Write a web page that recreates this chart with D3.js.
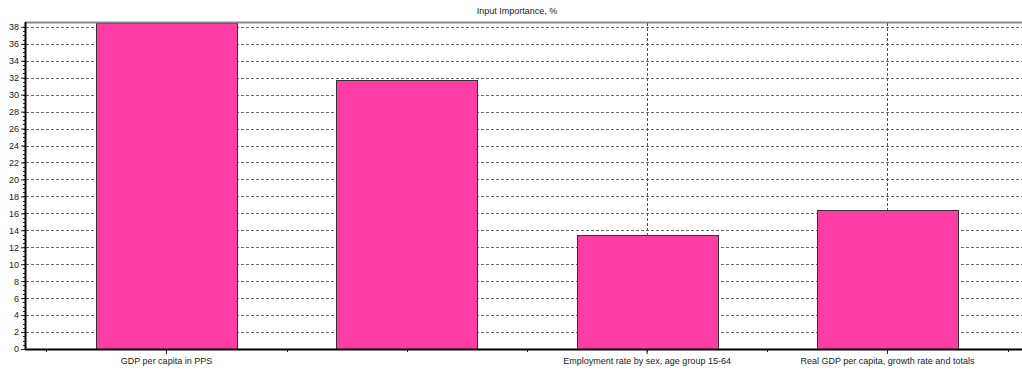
<!DOCTYPE html>
<html>
<head>
<meta charset="utf-8">
<script src="https://cdn.jsdelivr.net/npm/d3@7"></script>
<style>
  html, body { margin: 0; padding: 0; background: #fff; }
  svg { display: block; }
  text { font-family: "Liberation Sans", Arial, sans-serif; fill: #222; }
</style>
</head>
<body>
<svg id="chart" width="1022" height="372"></svg>
<script>
// Input importance per model input (percent)
const categories = [
  "GDP per capita in PPS",
  "Input 2",
  "Employment rate by sex, age group 15-64",
  "Real GDP per capita, growth rate and totals"
];
// Labels shown under the axis (the second one is not displayed)
const tickLabels = [
  "GDP per capita in PPS",
  "",
  "Employment rate by sex, age group 15-64",
  "Real GDP per capita, growth rate and totals"
];
const importance = [38.4, 31.7, 13.5, 16.4];
const yTicks = [0, 2, 4, 6, 8, 10, 12, 14, 16, 18, 20, 22, 24, 26, 28, 30, 32, 34, 36, 38];
const title = "Input Importance, %";

const svg = d3.select("#chart");
const plot = { left: 26, right: 1022, top: 23, bottom: 349 };

const x = d3.scaleBand()
  .domain(categories)
  .range([46.3, 1007.6])
  .paddingInner(0.413)
  .paddingOuter(0.2065);

const y = d3.scaleLinear()
  .domain([0, 38.45])
  .range([plot.bottom, plot.top]);

const center = c => x(c) + x.bandwidth() / 2;

// Title
svg.append("text")
  .attr("x", 517).attr("y", 14)
  .attr("text-anchor", "middle")
  .style("font-size", "9px")
  .text(title);

// Horizontal dashed grid
svg.append("g")
  .selectAll("line")
  .data(yTicks.filter(d => d > 0))
  .join("line")
  .attr("x1", plot.left).attr("x2", plot.right)
  .attr("y1", d => Math.round(y(d)) + 0.5).attr("y2", d => Math.round(y(d)) + 0.5)
  .attr("stroke", "#666").attr("stroke-width", 1)
  .attr("stroke-dasharray", "3,2");

// Vertical dashed grid at labelled categories
svg.append("g")
  .selectAll("line")
  .data(categories.filter((c, i) => tickLabels[i] !== ""))
  .join("line")
  .attr("x1", d => Math.round(center(d)) + 0.5).attr("x2", d => Math.round(center(d)) + 0.5)
  .attr("y1", plot.top).attr("y2", plot.bottom)
  .attr("stroke", "#555").attr("stroke-width", 1)
  .attr("stroke-dasharray", "3,2");

// Bars
svg.append("g")
  .selectAll("rect")
  .data(categories)
  .join("rect")
  .attr("x", d => Math.round(x(d)) + 0.5)
  .attr("width", Math.round(x.bandwidth()))
  .attr("y", (d, i) => Math.round(y(importance[i])) + 0.5)
  .attr("height", (d, i) => plot.bottom - Math.round(y(importance[i])))
  .attr("fill", "#ff3da5")
  .attr("stroke", "#333")
  .attr("stroke-width", 1);

// Top frame line
svg.append("line")
  .attr("x1", plot.left - 1).attr("x2", plot.right)
  .attr("y1", plot.top - 0.5).attr("y2", plot.top - 0.5)
  .attr("stroke", "#8c8c8c").attr("stroke-width", 2);

// Y axis: major ticks with labels, minor ticks every 0.5
const yMinor = d3.range(0, 38.01, 0.5);
svg.append("g")
  .selectAll("line")
  .data(yMinor)
  .join("line")
  .attr("x1", plot.left - 3).attr("x2", plot.left)
  .attr("y1", d => Math.round(y(d)) + 0.5).attr("y2", d => Math.round(y(d)) + 0.5)
  .attr("stroke", "#222").attr("stroke-width", 1);

const yAxis = d3.axisLeft(y)
  .tickValues(yTicks)
  .tickSize(5)
  .tickPadding(2)
  .tickFormat(d3.format("d"));
const gy = svg.append("g")
  .attr("transform", `translate(${plot.left},0)`)
  .call(yAxis);
gy.select(".domain").remove();
gy.selectAll(".tick line").attr("stroke", "#222");
gy.selectAll(".tick text")
  .style("font-family", "'Liberation Sans', Arial, sans-serif")
  .style("font-size", "9px")
  .attr("fill", "#222");

svg.append("line")
  .attr("x1", plot.left - 0.5).attr("x2", plot.left - 0.5)
  .attr("y1", plot.top - 1).attr("y2", plot.bottom + 1)
  .attr("stroke", "#000").attr("stroke-width", 2);

// X axis: minor ticks at band boundaries and centres, major ticks at labels
const boundaries = categories.map(c => x(c) - x.step() * x.paddingInner() / 2)
  .concat([x(categories[categories.length - 1]) + x.bandwidth() + x.step() * x.paddingInner() / 2]);
const centres = categories.map(center);
svg.append("g")
  .selectAll("line")
  .data(boundaries.concat(centres))
  .join("line")
  .attr("x1", d => Math.round(d) + 0.5).attr("x2", d => Math.round(d) + 0.5)
  .attr("y1", plot.bottom).attr("y2", plot.bottom + 3)
  .attr("stroke", "#222");

const xAxis = d3.axisBottom(x)
  .tickSize(5)
  .tickPadding(4)
  .tickFormat((d, i) => tickLabels[i]);
const gx = svg.append("g")
  .attr("transform", `translate(0,${plot.bottom})`)
  .call(xAxis);
gx.select(".domain").remove();
gx.selectAll(".tick line")
  .attr("stroke", "#222")
  .attr("opacity", (d, i) => tickLabels[i] === "" ? 0 : 1);
gx.selectAll(".tick text")
  .style("font-family", "'Liberation Sans', Arial, sans-serif")
  .style("font-size", "9px")
  .attr("fill", "#222");

svg.append("line")
  .attr("x1", plot.left - 1).attr("x2", plot.right)
  .attr("y1", plot.bottom + 0.5).attr("y2", plot.bottom + 0.5)
  .attr("stroke", "#000").attr("stroke-width", 2);
</script>
</body>
</html>
